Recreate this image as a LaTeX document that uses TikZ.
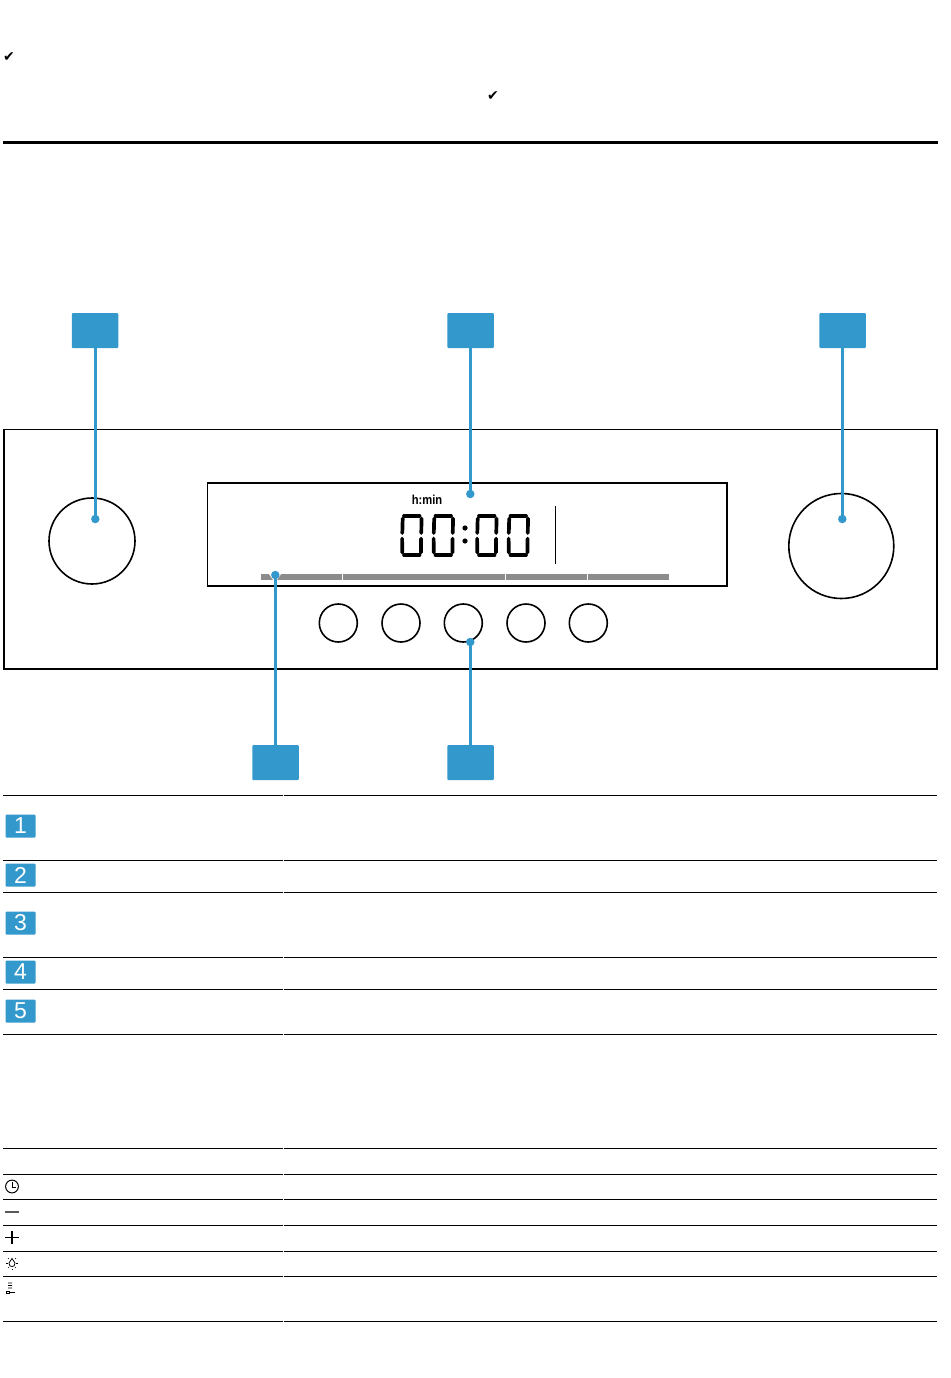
\documentclass[tikz,border=0pt]{standalone}
\usepackage{fontspec}
\setmainfont{Liberation Sans}
\newfontfamily\symfont{DejaVu Sans}
\definecolor{callblue}{HTML}{3399CC}
\definecolor{bargrey}{HTML}{8C8C8C}
\tikzset{
  x=1pt,y=-1pt,
  callout/.style={fill=callblue,draw=none,minimum width=46.5pt,minimum height=35pt,inner sep=0pt,outer sep=0pt,rounded corners=1pt},
  badge/.style={fill=callblue,draw=none,minimum width=30pt,minimum height=23pt,inner sep=0pt,text=white,font=\fontsize{23}{23}\selectfont,rounded corners=1pt},
  leader/.style={draw=callblue,line width=3.3pt},
  leaderdot/.style={circle,fill=callblue,draw=none,minimum size=8.5pt,inner sep=0pt,outer sep=0pt},
  control/.style={circle,draw=black,line width=1.6pt,inner sep=0pt,fill=white},
  frameline/.style={draw=black,line width=1.9pt},
  rulerow/.style={draw=black,line width=1.1pt},
  seg/.style={line width=3.7pt,line cap=round,black},
  thinicon/.style={line width=0.9pt,black},
  checktext/.style={font=\symfont\fontsize{14}{14}\selectfont,inner sep=0pt},
}
\newcommand{\lcdzero}[1]{%
  \begin{scope}[shift={(#1,514)}]
    \draw[seg] (3.5,1.8) -- (19,1.8);
    \draw[seg] (3.5,41.2) -- (19,41.2);
    \draw[seg] (2.2,4.5) -- (1.8,19);
    \draw[seg] (1.6,24.5) -- (1.8,38.5);
    \draw[seg] (21,4.5) -- (20.8,19);
    \draw[seg] (20.6,24.5) -- (20.4,38.5);
  \end{scope}}
\begin{document}
\begin{tikzpicture}
\useasboundingbox (0,0) rectangle (950,1378);
\fill[white] (0,0) rectangle (950,1378);
% header
\node[checktext] (chk1) at (9,57.5) {✔};
\node[checktext] (chk2) at (493,96.5) {✔};
\fill[black] (3,141) rectangle (938,144);
% panel
\draw[frameline] (4,429.5) rectangle (937,669);
\draw[frameline] (207.5,483) rectangle (727,586);
% grey bar
\fill[bargrey] (261,574) rectangle (669,579.5);
\foreach \x in {342,505,587} \draw[white,line width=0.5pt] (\x,574) -- (\x,579.5);
\fill[white] (269,574) -- (281,574) -- (277,580) -- (273,580) -- cycle;
% knobs and buttons
\node[control,minimum size=86pt] (knobL) at (92,541) {};
\node[control,minimum size=105pt] (knobR) at (841.3,546) {};
\foreach \n/\x in {b1/338.3,b2/401,b3/463.3,b4/526,b5/588.3}
  \node[control,minimum size=38pt] (\n) at (\x,623) {};
% display
\node[font=\bfseries\fontsize{13}{13}\selectfont,inner sep=0pt,xscale=0.86] (hmin) at (427,499.5) {h:min};
\lcdzero{400.5}\lcdzero{432}\lcdzero{475.5}\lcdzero{507}
\fill[black] (465,528) circle (2.6);
\fill[black] (465,541) circle (2.6);
\draw[black,line width=1.1pt] (555.5,506) -- (555.5,564);
% callouts
\node[callout] (c1) at (95,330.5) {};
\node[callout] (c2) at (470.5,330.5) {};
\node[callout] (c3) at (842.5,330.5) {};
\node[callout] (c4) at (275.5,762.5) {};
\node[callout] (c5) at (470.5,762.5) {};
\node[leaderdot] (d1) at (95.3,519) {};
\node[leaderdot] (d2) at (470.3,494) {};
\node[leaderdot] (d3) at (842.3,519) {};
\node[leaderdot] (d4) at (275.3,575) {};
\node[leaderdot] (d5) at (470.3,642) {};
\draw[leader] (c1.south -| d1) -- (d1.center);
\draw[leader] (c2.south -| d2) -- (d2.center);
\draw[leader] (c3.south -| d3) -- (d3.center);
\draw[leader] (c4.north -| d4) -- (d4.center);
\draw[leader] (c5.north -| d5) -- (d5.center);
% table rules
\foreach \y in {795.5,860.5,892.5,957.5,989.5,1034.5,1148.5,1174.5,1199.5,1225.5,1251.5,1276.5,1321.5}{
  \draw[rulerow] (3,\y) -- (282.5,\y);
  \draw[rulerow] (283.5,\y) -- (937,\y);
}
% badges
\node[badge] (n1) at (20.5,826) {1};
\node[badge] (n2) at (20.5,875) {2};
\node[badge] (n3) at (20.5,923) {3};
\node[badge] (n4) at (20.5,972) {4};
\node[badge] (n5) at (20.5,1011) {5};
% icons
\draw[thinicon,line width=1pt] (12,1186.5) circle (6.4);
\draw[thinicon,line width=0.8pt] (12.5,1182) -- (12.5,1187) -- (16,1187);
\draw[black!65,line width=1.6pt] (5,1212) -- (19,1212);
\draw[black,line width=1.1pt] (5,1237.5) -- (19,1237.5);
\draw[black,line width=1.1pt] (12,1231) -- (12,1244);
% bulb
\draw[thinicon,line width=0.8pt] (12,1258.5) -- (9,1263) .. controls (9,1266) and (10.5,1266.5) .. (12,1266.5) .. controls (13.5,1266.5) and (15,1266) .. (15,1263) -- cycle;
\foreach \a/\b/\c/\d in {6/1263/8/1263,16/1263/18/1263,8/1268/9/1267,15/1267/16/1268,12/1268.5/12/1270,8/1258/9/1259,15/1259/16/1258}
  \draw[black,line width=0.6pt] (\a,\b) -- (\c,\d);
% steam icon
\foreach \y in {1283,1285.5,1288}
  \draw[black,line width=0.9pt] (8,\y) .. controls (9,\y-1.5) and (10,\y+1.5) .. (12,\y);
\draw[black,line width=0.7pt] (6.5,1291) rectangle (9,1293.5);
\draw[black,line width=1.2pt] (9,1292.5) -- (15,1292.5);
\end{tikzpicture}
\end{document}
